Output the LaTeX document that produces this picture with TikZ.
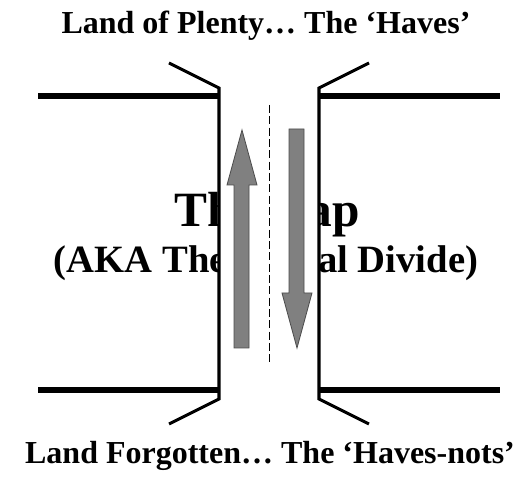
\documentclass[tikz,border=0pt]{standalone}
\usepackage{fontspec}
\setmainfont{Liberation Serif}
\usetikzlibrary{positioning}

\begin{document}
\begin{tikzpicture}[
  x=0.75pt, y=-0.75pt,
  title/.style={font=\bfseries\fontsize{24}{28}\selectfont, anchor=base, inner sep=0pt},
  gaptitle/.style={font=\bfseries\fontsize{37}{42}\selectfont, anchor=base, inner sep=0pt},
  subtitle/.style={font=\bfseries\fontsize{29}{34}\selectfont, anchor=base, inner sep=0pt},
  shore/.style={line width=5.2pt},
  cliff/.style={line width=2.3pt, miter limit=20},
  divide/.style={line width=0.7pt, dash pattern=on 6pt off 2.5pt},
  flow/.style={fill=black!50, draw=black!70, line width=0.6pt}
]
\useasboundingbox (0,0) rectangle (526,477);

\node[title] (haves) at (266,34) {Land of Plenty… The ‘Haves’};
\node[gaptitle] (gap) at (267,227) {The Gap};
\node[subtitle] (aka) at (266,273) {(AKA The Digital Divide)};
\node[title] (havenots) at (270,464) {Land Forgotten… The ‘Haves-nots’};

% the gap hides the middle of the words
\fill[white] (219,180) rectangle (319,292);

\draw[shore] (38,96) -- (219,96);
\draw[shore] (319,96) -- (500,96);
\draw[shore] (38,390) -- (219,390);
\draw[shore] (319,390) -- (500,390);

\draw[cliff] (169,63) -- (219,88) -- (219,399) -- (169,424);
\draw[cliff] (369,63) -- (319,88) -- (319,399) -- (369,424);

\draw[divide] (269,105) -- (269,365);

\draw[flow] (234,348) -- (234,185) -- (227,185) -- (242,130) -- (257,185)
  -- (249,185) -- (249,348) -- cycle;
\draw[flow] (289,129) -- (289,293) -- (282,293) -- (297,348) -- (312,293)
  -- (304,293) -- (304,129) -- cycle;
\end{tikzpicture}
\end{document}
